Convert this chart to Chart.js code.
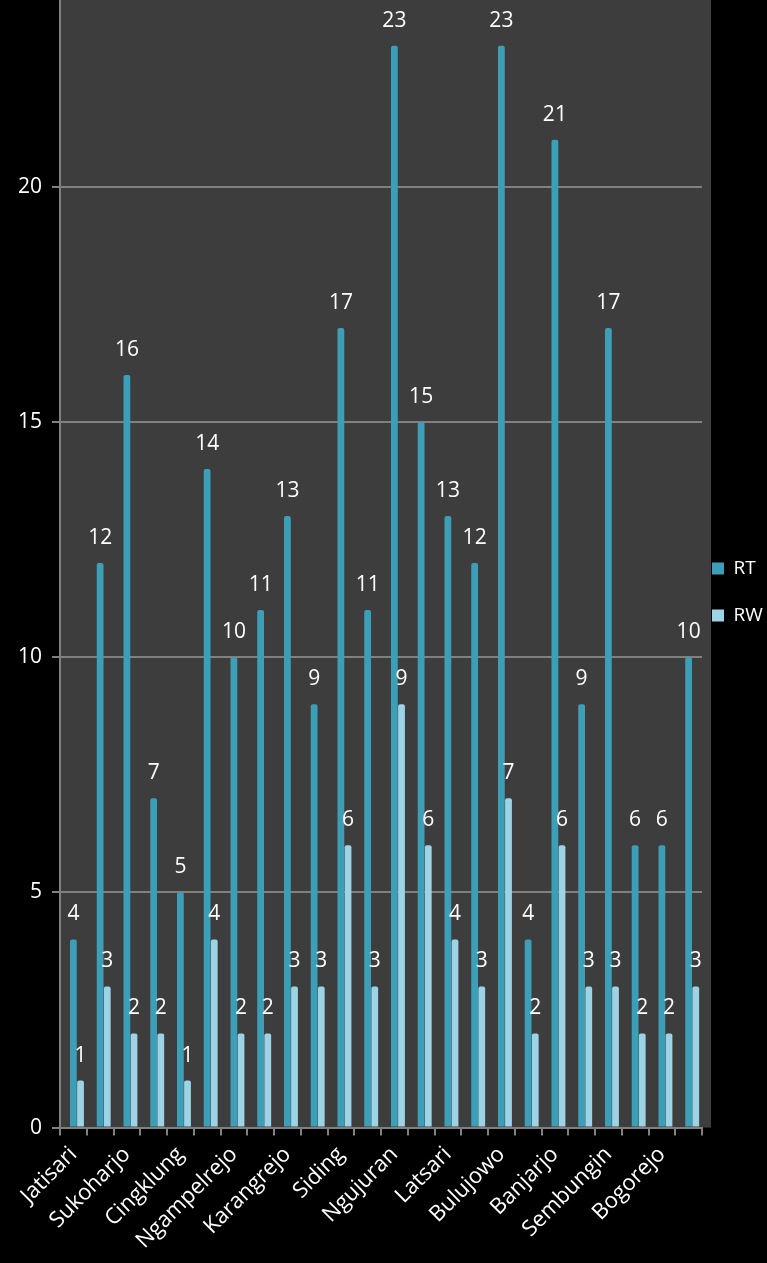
<!DOCTYPE html>
<html>
<head>
<meta charset="utf-8">
<script src="https://cdn.jsdelivr.net/npm/chart.js@4.4.0/dist/chart.umd.min.js"></script>
<style>
  html, body { margin: 0; padding: 0; background: #000; overflow: hidden; }
  #grafik { display: block; margin-top: -24px; }
</style>
</head>
<body>
<canvas id="grafik" width="767" height="1284"></canvas>
<script>
// Jumlah RT dan RW per desa
var desa = ["Jatisari", "Sukolilo", "Sukoharjo", "Tlogoagung", "Cingklung", "Boncong",
            "Ngampelrejo", "Pugoh", "Karangrejo", "Kayen", "Siding", "Bulumeduro",
            "Ngujuran", "Tengger Wetan", "Latsari", "Bancar", "Bulujowo", "Demit",
            "Banjarjo", "Tergambang", "Sembungin", "Margosuko", "Bogorejo", "Sidotentrem"];
var dataRT = [4, 12, 16, 7, 5, 14, 10, 11, 13, 9, 17, 11, 23, 15, 13, 12, 23, 4, 21, 9, 17, 6, 6, 10];
var dataRW = [1, 3, 2, 2, 1, 4, 2, 2, 3, 3, 6, 3, 9, 6, 4, 3, 7, 2, 6, 3, 3, 2, 2, 3];
var yTicks = [0, 5, 10, 15, 20];

var fontName = "'Open Sans', sans-serif";

// latar abu-abu area plot
var latarPlot = {
    id: "latarPlot",
    beforeDraw: function(chart) {
        var a = chart.chartArea;
        var ctx = chart.ctx;
        ctx.save();
        ctx.fillStyle = "#3d3d3d";
        ctx.fillRect(a.left, a.top, a.right - a.left + 9, a.bottom - a.top);
        ctx.restore();
    }
};

// angka di atas batang
var labelNilai = {
    id: "labelNilai",
    afterDatasetsDraw: function(chart) {
        var ctx = chart.ctx;
        ctx.save();
        ctx.fillStyle = "#ffffff";
        ctx.font = "21px " + fontName;
        ctx.textAlign = "center";
        ctx.textBaseline = "middle";
        chart.data.datasets.forEach(function(ds, i) {
            chart.getDatasetMeta(i).data.forEach(function(bar, j) {
                ctx.fillText(ds.data[j], bar.x, bar.y - 25);
            });
        });
        ctx.restore();
    }
};

new Chart("grafik", {
    type: "bar",
    data: {
        labels: desa,
        datasets: [
            // slot kosong supaya RT ada di tengah kategori
            { label: "", data: [] },
            { label: "RT", data: dataRT, backgroundColor: "#3c9fb7", borderRadius: 2 },
            { label: "RW", data: dataRW, backgroundColor: "#9dd3e4", borderRadius: 2 }
        ]
    },
    options: {
        responsive: false,
        animation: false,
        categoryPercentage: 0.8,
        barPercentage: 0.95,
        layout: { padding: { left: 8, right: 0, top: 0, bottom: 0 } },
        plugins: {
            tooltip: { enabled: false },
            legend: {
                position: "right",
                fullSize: false,
                maxWidth: 65,
                title: { display: true, text: "", padding: { top: 76, bottom: 0 }, font: { lineHeight: 0 } },
                labels: {
                    color: "#ffffff",
                    boxWidth: 12,
                    boxHeight: 12,
                    padding: 10,
                    font: { size: 19, family: fontName, lineHeight: "37px" },
                    generateLabels: function(chart) {
                        var items = Chart.defaults.plugins.legend.labels.generateLabels(chart);
                        return items.filter(function(it) { return it.text; }).map(function(it) {
                            it.text = [it.text];
                            it.strokeStyle = "transparent";
                            return it;
                        });
                    }
                }
            }
        },
        scales: {
            x: {
                afterFit: function(scale) { scale.paddingLeft = 0; },
                grid: { offset: true, drawOnChartArea: false, color: "#808080", lineWidth: 2, tickLength: 8 },
                border: { color: "#808080", width: 2 },
                ticks: {
                    color: "#ffffff",
                    autoSkip: false,
                    minRotation: 45,
                    maxRotation: 45,
                    padding: 6,
                    font: { size: 22, family: fontName },
                    callback: function(v, i) { return i % 2 === 0 ? desa[i] : ""; }
                }
            },
            y: {
                min: 0,
                max: 24,
                afterBuildTicks: function(scale) {
                    scale.ticks = yTicks.map(function(v) { return { value: v }; });
                },
                grid: { color: "#808080", lineWidth: 2, tickLength: 8 },
                border: { color: "#808080", width: 2 },
                ticks: { color: "#ffffff", padding: 10, font: { size: 21, family: fontName } }
            }
        }
    },
    plugins: [latarPlot, labelNilai]
});
</script>
</body>
</html>
